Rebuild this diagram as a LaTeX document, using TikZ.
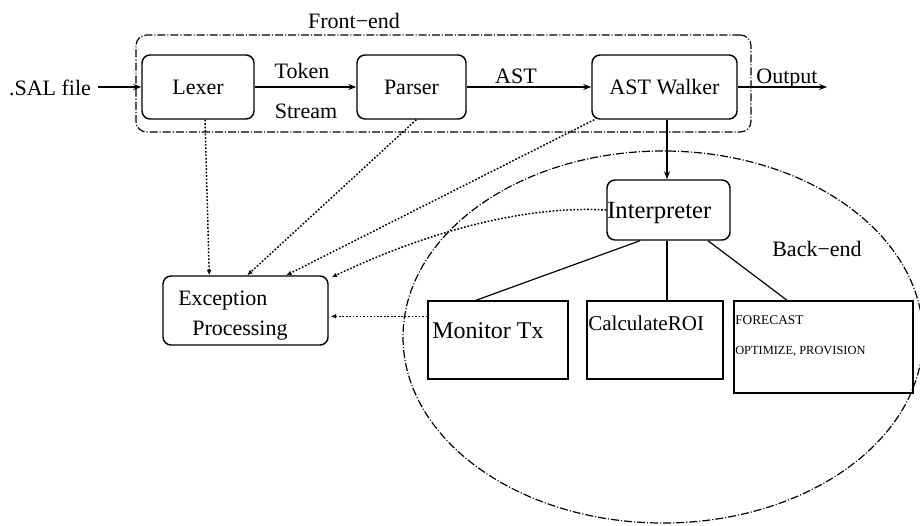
\documentclass[tikz,border=0pt]{standalone}
\usepackage{fontspec}
\setmainfont{Liberation Serif}
\usetikzlibrary{arrows.meta,calc,shapes.geometric}
\begin{document}
\begin{tikzpicture}[x=0.75pt,y=-0.75pt,
  rbox/.style={draw, line width=1.1pt, rounded corners=6pt, inner sep=0pt, font=\fontsize{16.5}{19}\selectfont},
  sbox/.style={draw, line width=1.1pt, inner sep=0pt},
  lbl/.style={font=\fontsize{16.5}{19}\selectfont, inner sep=0pt},
  ddash/.style={line width=0.9pt, dash pattern=on 6pt off 1.5pt on 0.8pt off 1.5pt},
  dots/.style={line width=1.1pt, dash pattern=on 1.3pt off 1.3pt, -{Latex[open,length=4pt,width=3.5pt]}},
  flow/.style={line width=0.9pt, -{Stealth[length=6pt,width=4.5pt]}},
  link/.style={line width=0.9pt}
]
\useasboundingbox (0,0) rectangle (920,525);

% front-end group
\node[draw, ddash, rounded corners=8pt, minimum width=461.25pt, minimum height=72.75pt, inner sep=0pt] (fe) at (443.5,83.5) {};
\node[lbl, anchor=base] (fel) at (354,28) {Front−end};

\node[rbox, minimum width=84pt, minimum height=48pt] (lexer) at (198,87) {Lexer};
\node[rbox, minimum width=81.75pt, minimum height=48pt] (parser) at (411.5,87) {Parser};
\node[rbox, minimum width=108.75pt, minimum height=48pt] (walker) at (664.5,87) {AST Walker};

\node[lbl, anchor=base] (sal) at (50,95) {.SAL file};
\coordinate (salend) at (98,87);
\coordinate (outend) at (827,87);

\node[lbl, anchor=base] (tok) at (302,78) {Token};
\node[lbl, anchor=base] (str) at (306,118) {Stream};
\node[lbl, anchor=base] (astl) at (516,83) {AST};
\node[lbl, anchor=base] (outl) at (787,83) {Output};

\draw[flow] (salend) -- (lexer.west);
\draw[flow] (lexer) -- (parser);
\draw[flow] (parser) -- (walker);
\draw[flow] (walker.east) -- (outend);

% back-end
\node[draw, ellipse, ddash, minimum width=390pt, minimum height=279pt, inner sep=0pt] (be) at (663,337) {};
\node[lbl, anchor=base] (bel) at (817,256) {Back−end};

\node[rbox, minimum width=92.25pt, minimum height=45pt] (interp) at (668.5,210) {};
\node[inner sep=0pt, anchor=base west, font=\fontsize{18.5}{21}\selectfont] (interpt) at (607,218) {Interpreter};

\coordinate (wsouth) at ($(walker.south)+(2.5,0)$);
\draw[flow] (wsouth) -- (wsouth |- interp.north);

\node[sbox, minimum width=105pt, minimum height=58.5pt] (mon) at (498,340) {};
\node[inner sep=0pt, anchor=base west, font=\fontsize{18}{21}\selectfont] (mont) at (432,338) {Monitor Tx};

\node[sbox, minimum width=102pt, minimum height=58.5pt] (roi) at (655,340) {};
\node[inner sep=0pt, anchor=base west, font=\fontsize{15.8}{19}\selectfont] (roit) at (588,330) {CalculateROI};

\node[sbox, minimum width=134.25pt, minimum height=69pt] (fc) at (823.5,347) {};
\node[inner sep=0pt, anchor=base west, font=\fontsize{10}{12}\selectfont] (fct1) at (735,324) {FORECAST};
\node[inner sep=0pt, anchor=base west, font=\fontsize{9.3}{11}\selectfont] (fct2) at (735,354) {OPTIMIZE, PROVISION};

\draw[link] ($(interp.south)+(-28.5,0)$) -- ($(mon.north)+(-22,0)$);
\draw[link] ($(interp.south)+(-1.5,0)$) -- ($(roi.north)+(12,0)$);
\draw[link] ($(interp.south)+(39.5,0)$) -- ($(fc.north)+(-36.5,0)$);

% exception processing
\node[rbox, minimum width=123.75pt, minimum height=51.75pt] (exc) at (245.5,310.5) {};
\node[lbl, anchor=base west] (exct1) at (178,305) {Exception};
\node[lbl, anchor=base west] (exct2) at (192,335) {Processing};

\draw[dots] ($(lexer.south)+(7,0)$) -- ($(exc.north west)+(47,0)$);
\draw[dots] ($(parser.south west)+(60,0)$) -- ($(exc.north west)+(85,0)$);
\draw[dots] ($(walker.south west)+(3,0)$) -- ($(exc.north west)+(124,0)$);
\draw[dots] (interp.west) .. controls (520,205) and (420,235) .. ($(exc.north east)+(3,2)$);
\draw[dots] ($(mon.north west)+(0,16)$) -- ($(exc.north east)+(2,41)$);
\end{tikzpicture}
\end{document}
